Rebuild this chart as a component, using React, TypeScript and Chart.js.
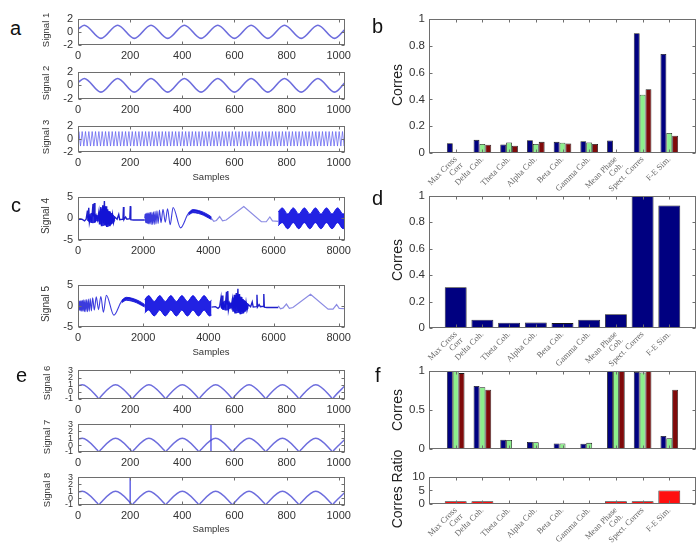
import React, { useEffect, useRef } from "react";
import { Chart, registerables } from "chart.js";

Chart.register(...registerables);

const SANS = '"Liberation Sans", Arial, sans-serif';
const SERIF = '"Liberation Serif", "Times New Roman", serif';
Chart.defaults.font.family = SANS;

// ---------------- DATA ----------------
const corrCategories: (string | string[])[] = [
  ["Max Cross", "Corr"], "Delta Coh.", "Theta Coh.", "Alpha Coh.", "Beta Coh.",
  "Gamma Coh.", ["Mean Phase", "Coh."], "Spect. Corres", "F-E Sim.",
];

const bSeries1 = [0.073, 0.098, 0.063, 0.095, 0.083, 0.088, 0.093, 0.893, 0.739];
const bSeries2 = [0.005, 0.068, 0.078, 0.068, 0.076, 0.078, 0.003, 0.434, 0.149];
const bSeries3 = [0.003, 0.061, 0.054, 0.083, 0.071, 0.068, 0.002, 0.476, 0.129];

const dSeries = [0.309, 0.062, 0.04, 0.042, 0.037, 0.062, 0.104, 1.0, 0.928];

const fSeries1 = [1.0, 0.808, 0.12, 0.092, 0.072, 0.068, 1.0, 0.988, 0.168];
const fSeries2 = [0.996, 0.792, 0.116, 0.088, 0.072, 0.08, 1.0, 0.98, 0.14];
const fSeries3 = [0.972, 0.76, 0.012, 0.003, 0.0, 0.0, 1.0, 1.0, 0.76];
const fRatio = [1.0, 1.0, 0.15, 0.0, 0.0, 0.0, 1.0, 1.0, 5.0];

const corrTicksB = [0, 0.2, 0.4, 0.6, 0.8, 1];
const corrTicksF = [0, 0.5, 1];
const ratioTicks = [0, 5, 10];

const samplesTicks1k = [0, 200, 400, 600, 800, 1000];
const samplesTicks8k = [0, 2000, 4000, 6000, 8000];
const sigTicksA = [-2, 0, 2];
const sigTicksC = [-5, 0, 5];
const sigTicksE = [-1, 0, 1, 2, 3];

// Signal 1 & 2: sine, extrema
const signal1 = [[0, 0.38], [24, 1], [88, -1], [152, 1], [216, -1], [280, 1], [344, -1], [408, 1], [472, -1], [536, 1], [600, -1], [664, 1], [728, -1], [792, 1], [856, -1], [920, 1], [984, -1], [1024, 0.38]];
const signal2 = [[0, 0.38], [24, 1], [88, -1], [152, 1], [216, -1], [280, 1], [344, -1], [408, 1], [472, -1], [536, 1], [600, -1], [664, 1], [728, -1], [792, 1], [856, -1], [920, 1], [984, -1], [1024, 0.38]];

// Signal 3: fast oscillation, extrema every 6.4 samples
const signal3Start = 3.2;
const signal3Spacing = 6.4;
const signal3Extrema = [
  1.1, -1.1, 1.1, -1.1, 1.1, -1.1, 1.1, -1.1, 1.1, -1.1, 1.1, -1.1, 1.1, -1.1, 1.1, -1.1,
  1.1, -1.1, 1.1, -1.1, 1.1, -1.1, 1.1, -1.1, 1.1, -1.1, 1.1, -1.1, 1.1, -1.1, 1.1, -1.1,
  1.1, -1.1, 1.1, -1.1, 1.1, -1.1, 1.1, -1.1, 1.1, -1.1, 1.1, -1.1, 1.1, -1.1, 1.1, -1.1,
  1.1, -1.1, 1.1, -1.1, 1.1, -1.1, 1.1, -1.1, 1.1, -1.1, 1.1, -1.1, 1.1, -1.1, 1.1, -1.1,
  1.1, -1.1, 1.1, -1.1, 1.1, -1.1, 1.1, -1.1, 1.1, -1.1, 1.1, -1.1, 1.1, -1.1, 1.1, -1.1,
  1.1, -1.1, 1.1, -1.1, 1.1, -1.1, 1.1, -1.1, 1.1, -1.1, 1.1, -1.1, 1.1, -1.1, 1.1, -1.1,
  1.1, -1.1, 1.1, -1.1, 1.1, -1.1, 1.1, -1.1, 1.1, -1.1, 1.1, -1.1, 1.1, -1.1, 1.1, -1.1,
  1.1, -1.1, 1.1, -1.1, 1.1, -1.1, 1.1, -1.1, 1.1, -1.1, 1.1, -1.1, 1.1, -1.1, 1.1, -1.1,
  1.1, -1.1, 1.1, -1.1, 1.1, -1.1, 1.1, -1.1, 1.1, -1.1, 1.1, -1.1, 1.1, -1.1, 1.1, -1.1,
  1.1, -1.1, 1.1, -1.1, 1.1, -1.1, 1.1, -1.1, 1.1, -1.1, 1.1, -1.1, 1.1, -1.1, 1.1, -1.1,
];

// Signals 4 & 5 are built from four 2048-sample segments
const segmentLength = 2048;
const segSpikesLine = [[0, -0.3], [120, -0.2], [200, -0.6], [250, -0.2], [290, 1.8], [305, -0.5], [330, 2.4], [350, -0.9], [380, 0.3], [420, -0.5], [460, 3.3], [480, 0.4], [500, 3.5], [520, -1.0], [560, 0.6], [600, -0.4], [640, 1.5], [660, -1.4], [700, 2.6], [720, -1.8], [760, 3.0], [780, -1.2], [810, 4.0], [830, -1.6], [860, 2.8], [880, -2.0], [910, 2.1], [930, -1.5], [960, 1.6], [980, -1.8], [1010, 1.2], [1030, -1.3], [1060, 0.8], [1090, -1.0], [1130, 0.3], [1200, -0.2], [1250, 0.9], [1280, -0.3], [1380, -0.2], [1395, 2.6], [1410, -0.3], [1460, 0.3], [1500, -0.2], [1590, -0.1], [1605, 2.8], [1620, -0.3], [1700, -0.4], [2048, -0.4]];
const segSpikesBand = [[290, -0.5, 0.3], [380, -0.9, 1.0], [480, -1.0, 1.2], [560, -0.6, 0.6], [620, -0.5, 0.6], [680, -1.2, 1.8], [760, -1.7, 2.4], [830, -1.5, 2.6], [900, -1.9, 1.8], [980, -1.6, 1.4], [1060, -1.1, 0.9], [1130, -0.5, 0.3]];
const segChirpLine = [[0, 0], [12, 1.0], [26, -1.0], [40, 1.1], [55, -1.1], [70, 1.2], [86, -1.2], [102, 1.2], [119, -1.3], [137, 1.3], [156, -1.3], [176, 1.4], [197, -1.4], [219, 1.4], [242, -1.4], [266, 1.5], [291, -1.4], [317, 1.6], [345, -1.3], [375, 1.7], [410, -1.2], [450, 1.9], [500, -1.0], [560, 2.1], [630, -0.9], [700, 2.2], [780, -1.5], [870, 2.5], [1100, -2.2], [1330, 1.0], [1450, 1.6], [1560, 1.8], [1700, 1.4], [1850, 0.8], [2048, 0.0]];
const segChirpBand = [[1340, 0.7, 1.3], [1480, 1.3, 2.0], [1650, 1.1, 1.8], [1800, 0.7, 1.4], [1950, 0.1, 0.8], [2048, -0.3, 0.3]];
const segSlowLine = [[0, 0], [70, -0.7], [150, -0.5], [250, 0.4], [340, -0.6], [450, -0.4], [990, 2.7], [1530, -0.8], [1680, -0.8], [1790, 0.3], [1870, -0.6], [2048, -0.7]];
const segModBand = [[0, -1.7, 1.5], [120, -1.0, 2.4], [290, -2.4, 1.0], [460, -1.0, 2.4], [630, -2.4, 1.0], [800, -1.0, 2.4], [970, -2.4, 1.0], [1140, -1.0, 2.4], [1310, -2.4, 1.0], [1480, -1.0, 2.4], [1650, -2.4, 1.0], [1820, -1.0, 2.4], [1990, -2.4, 1.0], [2048, -2.2, 1.3]];
const signal4Segments = ["spikes", "chirp", "slow", "mod"];
const signal5Segments = ["chirp", "mod", "spikes", "slow"];

// Signals 6-8: rectified-sine shape, sharp bottoms
const signal6 = [[0, 0.85], [16, 1], [74, -0.71], [80, -1], [86, -0.71], [144, 1], [202, -0.71], [208, -1], [214, -0.71], [272, 1], [330, -0.71], [336, -1], [342, -0.71], [400, 1], [458, -0.71], [464, -1], [470, -0.71], [528, 1], [586, -0.71], [592, -1], [598, -0.71], [656, 1], [714, -0.71], [720, -1], [726, -0.71], [784, 1], [842, -0.71], [848, -1], [854, -0.71], [912, 1], [970, -0.71], [976, -1], [982, -0.71], [1024, 0.85]];
const signal7 = signal6.map((p) => [p[0], p[1]]);
const signal8 = signal6.map((p) => [p[0], p[1]]);
const signal7Spike = [[510, -1], [510, 3]];
const signal8Spike = [[200, -1], [200, 3]];

// ---------------- HELPERS ----------------
const toXY = (pts: number[][], off = 0) => pts.map((p) => ({ x: p[0] + off, y: p[1] }));
const plain = (v: any) => String(v);

const boxPlugin = {
  id: "matlabBox",
  afterDatasetsDraw(chart: any) {
    const { ctx, chartArea: a, scales } = chart;
    const L = Math.round(a.left) + 0.5, R = Math.round(a.right) - 0.5;
    const T = Math.round(a.top) + 0.5, B = Math.round(a.bottom) - 0.5;
    const len = 3;
    ctx.save();
    ctx.strokeStyle = "#6e6e6e";
    ctx.lineWidth = 1;
    ctx.beginPath();
    const xs = scales.x, ys = scales.y;
    xs.ticks.forEach((t: any, i: number) => {
      if (t.label === "") return;
      const px = Math.round(xs.getPixelForTick(i)) + 0.5;
      ctx.moveTo(px, B); ctx.lineTo(px, B - len);
      ctx.moveTo(px, T); ctx.lineTo(px, T + len);
    });
    ys.ticks.forEach((t: any, i: number) => {
      const py = Math.round(ys.getPixelForTick(i)) + 0.5;
      ctx.moveTo(L, py); ctx.lineTo(L + len, py);
      ctx.moveTo(R, py); ctx.lineTo(R - len, py);
    });
    ctx.stroke();
    ctx.strokeRect(L, T, R - L, B - T);
    ctx.restore();
  },
};

type Pad = { l: number; t: number; r: number; b: number };
type Box = { l: number; t: number; r: number; b: number };

function lineDs(pts: number[][], off: number, color: string, width: number, smooth: boolean) {
  return {
    data: toXY(pts, off), borderColor: color, borderWidth: width, pointRadius: 0, fill: false,
    tension: 0, cubicInterpolationMode: smooth ? "monotone" : "default",
  };
}
function bandDs(band: number[][], off: number, color: string) {
  return [
    { data: band.map((p) => ({ x: p[0] + off, y: p[1] })), borderColor: color, borderWidth: 1, pointRadius: 0, fill: false, cubicInterpolationMode: "monotone" },
    { data: band.map((p) => ({ x: p[0] + off, y: p[2] })), borderColor: color, borderWidth: 1, pointRadius: 0, fill: "-1", backgroundColor: color, cubicInterpolationMode: "monotone" },
  ];
}

function segmentDatasets(order: string[]) {
  const out: any[] = [];
  const dense = "rgba(18,18,215,0.88)";
  order.forEach((name, i) => {
    const off = i * segmentLength;
    if (name === "spikes") {
      out.push(...bandDs(segSpikesBand, off, dense));
      out.push(lineDs(segSpikesLine, off, "rgba(20,20,200,0.95)", 1.4, false));
    } else if (name === "chirp") {
      out.push(...bandDs(segChirpBand, off, dense));
      out.push(lineDs(segChirpLine, off, "rgba(25,25,215,0.85)", 1.1, true));
    } else if (name === "slow") {
      out.push(lineDs(segSlowLine, off, "rgba(90,90,215,0.7)", 1.2, false));
    } else if (name === "mod") {
      out.push(...bandDs(segModBand, off, "rgba(15,15,225,0.92)"));
    }
  });
  return out;
}

function signalChart(datasets: any[], xMax: number, xTicks: number[], yMin: number, yMax: number, yTicks: number[], yFont: number, pad: Pad) {
  return () => ({
    type: "line",
    data: { datasets },
    options: {
      responsive: false, animation: false, events: [],
      layout: { padding: { top: pad.t, right: pad.r, left: 0, bottom: 0 } },
      plugins: { legend: { display: false }, tooltip: { enabled: false } },
      scales: {
        x: {
          type: "linear", min: 0, max: xMax,
          afterBuildTicks: (s: any) => { s.ticks = xTicks.map((v) => ({ value: v })); },
          afterFit: (s: any) => { s.height = pad.b; },
          grid: { display: false, drawTicks: false }, border: { display: false },
          ticks: { callback: plain, color: "#333", font: { size: 11, family: SANS }, padding: 4, maxRotation: 0, autoSkip: false },
        },
        y: {
          type: "linear", min: yMin, max: yMax,
          afterBuildTicks: (s: any) => { s.ticks = yTicks.map((v) => ({ value: v })); },
          afterFit: (s: any) => { s.width = pad.l; },
          grid: { display: false, drawTicks: false }, border: { display: false },
          ticks: { callback: plain, color: "#333", font: { size: yFont, family: SANS }, padding: 5, autoSkip: false },
        },
      },
    },
    plugins: [boxPlugin],
  });
}

function barChart(series: { data: number[]; color: string }[], yMax: number, yTicks: number[], pad: Pad, showLabels: boolean, catPct: number, barPct: number) {
  return () => ({
    type: "bar",
    data: {
      labels: ["", ...corrCategories, ""],
      datasets: series.map((s) => ({
        data: [null, ...s.data, null], backgroundColor: s.color, borderColor: "#1a1a1a", borderWidth: 0.8,
        categoryPercentage: catPct, barPercentage: barPct,
      })),
    },
    options: {
      responsive: false, animation: false, events: [],
      layout: { padding: { top: pad.t, right: pad.r, left: 0, bottom: 0 } },
      plugins: { legend: { display: false }, tooltip: { enabled: false } },
      scales: {
        x: {
          type: "category", offset: false,
          afterFit: (s: any) => { s.height = pad.b; },
          grid: { display: false, drawTicks: false }, border: { display: false },
          ticks: { display: showLabels, autoSkip: false, minRotation: 45, maxRotation: 45, padding: 2, color: "#666", font: { size: 8.5, family: SERIF, lineHeight: 1.0 } },
        },
        y: {
          type: "linear", min: 0, max: yMax,
          afterBuildTicks: (s: any) => { s.ticks = yTicks.map((v) => ({ value: v })); },
          afterFit: (s: any) => { s.width = pad.l; },
          grid: { display: false, drawTicks: false }, border: { display: false },
          ticks: { callback: plain, color: "#333", font: { size: 11.5, family: SANS }, padding: 4, autoSkip: false },
        },
      },
    },
    plugins: [boxPlugin],
  });
}

function frameOf(box: Box, pad: Pad) {
  return { left: box.l - pad.l, top: box.t - pad.t, width: box.r - box.l + pad.l + pad.r, height: box.b - box.t + pad.t + pad.b };
}

function ChartCanvas({ box, pad, make }: { box: Box; pad: Pad; make: () => any }) {
  const ref = useRef<HTMLCanvasElement>(null);
  const f = frameOf(box, pad);
  useEffect(() => {
    const chart = new Chart(ref.current as HTMLCanvasElement, make());
    return () => chart.destroy();
  }, []);
  return <canvas ref={ref} width={f.width} height={f.height} style={{ position: "absolute", left: f.left, top: f.top, width: f.width, height: f.height }} />;
}

function Label({ x, y, text, size, rot = 0, color = "#222", family = SANS }: any) {
  return (
    <div style={{ position: "absolute", left: x, top: y, transform: `translate(-50%,-50%) rotate(${rot}deg)`, fontSize: size, fontFamily: family, color, whiteSpace: "nowrap", lineHeight: 1 }}>
      {text}
    </div>
  );
}
function Letter({ x, baseline, text }: any) {
  return <div style={{ position: "absolute", left: x, top: baseline - 17, fontSize: 20, lineHeight: "20px", fontFamily: SANS, color: "#111" }}>{text}</div>;
}

// ---------------- CHART SPECS ----------------
const sigPad: Pad = { l: 40, t: 8, r: 12, b: 22 };
const sigLine = "rgba(60,60,210,0.75)";
const sigL = 78, sigR = 345;
const barL = 429, barR = 696;
const groupPad: Pad = { l: 40, t: 8, r: 12, b: 50 };

const chartSpecs = [
  { key: "s1", box: { l: sigL, r: sigR, t: 15, b: 45 }, pad: sigPad, make: signalChart([lineDs(signal1, 0, sigLine, 1.6, true)], 1024, samplesTicks1k, -2, 2, sigTicksA, 11, sigPad) },
  { key: "s2", box: { l: sigL, r: sigR, t: 68, b: 99 }, pad: sigPad, make: signalChart([lineDs(signal2, 0, sigLine, 1.6, true)], 1024, samplesTicks1k, -2, 2, sigTicksA, 11, sigPad) },
  {
    key: "s3", box: { l: sigL, r: sigR, t: 122, b: 152 }, pad: sigPad,
    make: signalChart([{
      data: [{ x: 0, y: 0 }, ...signal3Extrema.map((v, i) => ({ x: signal3Start + i * signal3Spacing, y: v })), { x: 1024, y: 0 }],
      borderColor: "rgba(90,90,240,0.7)", borderWidth: 1, pointRadius: 0, fill: false, tension: 0,
    }], 1024, samplesTicks1k, -2, 2, sigTicksA, 11, sigPad),
  },
  { key: "s4", box: { l: sigL, r: sigR, t: 193, b: 240 }, pad: sigPad, make: signalChart(segmentDatasets(signal4Segments), 8192, samplesTicks8k, -5, 5, sigTicksC, 11, sigPad) },
  { key: "s5", box: { l: sigL, r: sigR, t: 281, b: 327 }, pad: sigPad, make: signalChart(segmentDatasets(signal5Segments), 8192, samplesTicks8k, -5, 5, sigTicksC, 11, sigPad) },
  { key: "s6", box: { l: sigL, r: sigR, t: 368, b: 399 }, pad: sigPad, make: signalChart([lineDs(signal6, 0, sigLine, 1.5, true)], 1024, samplesTicks1k, -1, 3, sigTicksE, 9, sigPad) },
  { key: "s7", box: { l: sigL, r: sigR, t: 422, b: 452 }, pad: sigPad, make: signalChart([lineDs(signal7, 0, sigLine, 1.5, true), lineDs(signal7Spike, 0, "rgba(40,40,220,0.9)", 1.2, false)], 1024, samplesTicks1k, -1, 3, sigTicksE, 9, sigPad) },
  { key: "s8", box: { l: sigL, r: sigR, t: 475, b: 505 }, pad: sigPad, make: signalChart([lineDs(signal8, 0, sigLine, 1.5, true), lineDs(signal8Spike, 0, "rgba(40,40,220,0.9)", 1.2, false)], 1024, samplesTicks1k, -1, 3, sigTicksE, 9, sigPad) },
  {
    key: "b", box: { l: barL, r: barR, t: 16, b: 153 }, pad: groupPad,
    make: barChart([{ data: bSeries1, color: "#000080" }, { data: bSeries2, color: "#8cef8c" }, { data: bSeries3, color: "#7f0a0a" }], 1, corrTicksB, groupPad, true, 0.66, 1.0),
  },
  {
    key: "d", box: { l: barL, r: barR, t: 193, b: 328 }, pad: groupPad,
    make: barChart([{ data: dSeries, color: "#000080" }], 1, corrTicksB, groupPad, true, 0.82, 1.0),
  },
  {
    key: "f", box: { l: barL, r: barR, t: 368, b: 452 }, pad: { l: 40, t: 8, r: 12, b: 8 },
    make: barChart([{ data: fSeries1, color: "#000080" }, { data: fSeries2, color: "#8cef8c" }, { data: fSeries3, color: "#7f0a0a" }], 1, corrTicksF, { l: 40, t: 8, r: 12, b: 8 }, false, 0.66, 1.0),
  },
  {
    key: "fr", box: { l: barL, r: barR, t: 474, b: 504 }, pad: { l: 40, t: 8, r: 12, b: 44 },
    make: barChart([{ data: fRatio, color: "#ff1010" }], 10, ratioTicks, { l: 40, t: 8, r: 12, b: 44 }, true, 0.82, 1.0),
  },
];

export default function App() {
  return (
    <div style={{ position: "absolute", left: 0, top: 0, width: 700, height: 545, background: "#fff", overflow: "hidden", fontFamily: SANS }}>
      {chartSpecs.map((c) => <ChartCanvas key={c.key} box={c.box} pad={c.pad} make={c.make} />)}

      <Label x={46} y={30} text="Signal 1" size={9.5} rot={-90} color="#333" />
      <Label x={46} y={83} text="Signal 2" size={9.5} rot={-90} color="#333" />
      <Label x={46} y={137} text="Signal 3" size={9.5} rot={-90} color="#333" />
      <Label x={211} y={177} text="Samples" size={9.5} color="#333" />

      <Label x={46} y={216} text="Signal 4" size={10} rot={-90} color="#333" />
      <Label x={46} y={304} text="Signal 5" size={10} rot={-90} color="#333" />
      <Label x={211} y={352} text="Samples" size={9.5} color="#333" />

      <Label x={47} y={383} text="Signal 6" size={9.5} rot={-90} color="#333" />
      <Label x={47} y={437} text="Signal 7" size={9.5} rot={-90} color="#333" />
      <Label x={47} y={490} text="Signal 8" size={9.5} rot={-90} color="#333" />
      <Label x={211} y={529} text="Samples" size={9.5} color="#333" />

      <Label x={397} y={85} text="Corres" size={14} rot={-90} color="#222" />
      <Label x={397} y={260} text="Corres" size={14} rot={-90} color="#222" />
      <Label x={397} y={410} text="Corres" size={14} rot={-90} color="#222" />
      <Label x={397} y={489} text="Corres Ratio" size={14} rot={-90} color="#222" />

      <Letter x={10} baseline={35} text="a" />
      <Letter x={11} baseline={212} text="c" />
      <Letter x={16} baseline={382} text="e" />
      <Letter x={372} baseline={33} text="b" />
      <Letter x={372} baseline={205} text="d" />
      <Letter x={375} baseline={382} text="f" />
    </div>
  );
}
